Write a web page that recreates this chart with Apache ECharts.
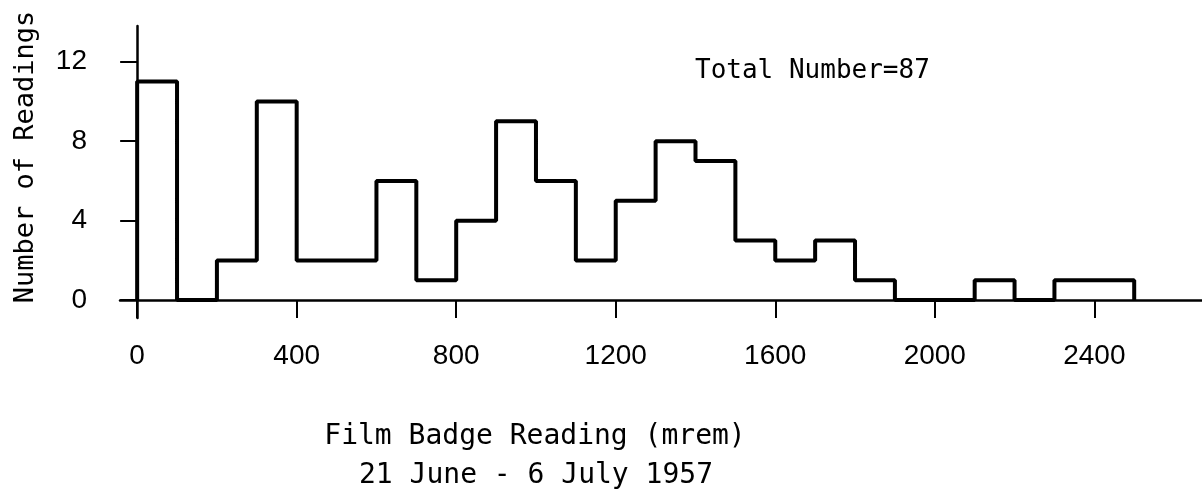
<!DOCTYPE html>
<html>
<head>
<meta charset="utf-8">
<script src="https://cdn.jsdelivr.net/npm/echarts@6/dist/echarts.min.js"></script>
<style>
  html, body { margin: 0; padding: 0; background: #fff; }
  #main { width: 1202px; height: 502px; }
</style>
</head>
<body>
<div id="main"></div>
<script>
// bin left edges (mrem), width 100
var binStart = [0, 100, 200, 300, 400, 500, 600, 700, 800, 900, 1000, 1100, 1200,
                1300, 1400, 1500, 1600, 1700, 1800, 1900, 2000, 2100, 2200, 2300, 2400];
var counts = [11, 0, 2, 10, 2, 2, 6, 1, 4, 9, 6, 2, 5,
              8, 7, 3, 2, 3, 1, 0, 0, 1, 0, 1, 1];
var binWidth = 100;
var xTicks = [0, 400, 800, 1200, 1600, 2000, 2400];
var yTicks = [0, 4, 8, 12];

// step outline: start on baseline, one point per bin, close at the last edge
var stepPts = [[binStart[0], 0]];
for (var i = 0; i < binStart.length; i++) {
    stepPts.push([binStart[i], counts[i]]);
}
stepPts.push([binStart[binStart.length - 1] + binWidth, 0]);

var mono = 'DejaVu Sans Mono';
var chart = echarts.init(document.getElementById('main'));
chart.setOption({
    backgroundColor: '#fff',
    animation: false,
    grid: { left: 120, right: 0, top: 26, bottom: 184 },
    xAxis: {
        type: 'value',
        min: -43,
        max: 2670,
        splitLine: { show: false },
        axisLine: { onZero: true, lineStyle: { color: '#000', width: 2.5 } },
        axisTick: { customValues: xTicks, length: 18, lineStyle: { color: '#000', width: 2 } },
        axisLabel: {
            customValues: xTicks,
            margin: 24,
            color: '#000',
            fontFamily: 'Liberation Sans',
            fontSize: 28,
            formatter: function (v) { return String(v); }
        }
    },
    yAxis: {
        type: 'value',
        min: -0.9,
        max: 13.8,
        splitLine: { show: false },
        axisLine: { onZero: true, lineStyle: { color: '#000', width: 2.5 } },
        axisTick: { customValues: yTicks, length: 17, lineStyle: { color: '#000', width: 2 } },
        axisLabel: {
            customValues: yTicks,
            margin: 33,
            color: '#000',
            fontFamily: 'Liberation Sans',
            fontSize: 28
        }
    },
    series: [{
        type: 'line',
        step: 'end',
        data: stepPts,
        showSymbol: false,
        clip: false,
        lineStyle: { color: '#000', width: 4 }
    }],
    graphic: [
        {
            type: 'text', left: 695, top: 58,
            style: { text: 'Total Number=87', font: '26px "' + mono + '"', fill: '#000' }
        },
        {
            type: 'text', x: 535, y: 437,
            style: { text: 'Film Badge Reading (mrem)', font: '28px "' + mono + '"', fill: '#000',
                     textAlign: 'center', textVerticalAlign: 'middle' }
        },
        {
            type: 'text', x: 536, y: 476,
            style: { text: '21 June - 6 July 1957', font: '28px "' + mono + '"', fill: '#000',
                     textAlign: 'center', textVerticalAlign: 'middle' }
        },
        {
            type: 'text', x: 26, y: 157, rotation: Math.PI / 2,
            style: { text: 'Number of Readings', font: '27px "' + mono + '"', fill: '#000',
                     textAlign: 'center', textVerticalAlign: 'middle' }
        }
    ]
});
</script>
</body>
</html>
